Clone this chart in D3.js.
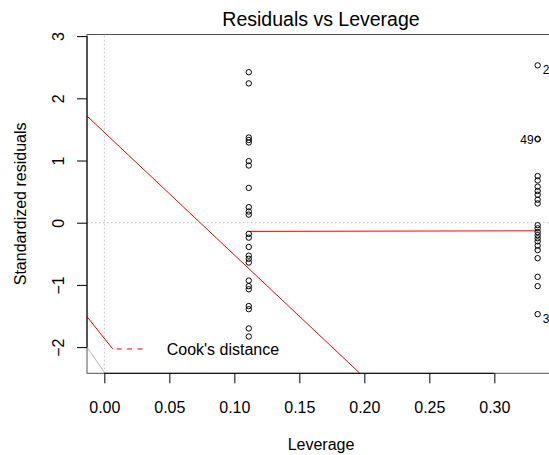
<!DOCTYPE html>
<html>
<head>
<meta charset="utf-8">
<script src="https://cdn.jsdelivr.net/npm/d3@7"></script>
<style>
  body { margin: 0; background: #fff; }
  text { font-family: "Liberation Sans", Arial, sans-serif; fill: #000; }
</style>
</head>
<body>
<div id="chart"></div>
<script>
// leverage groups (two distinct hat values)
const leverageLow = 1 / 9;
const leverageHigh = 1 / 3;

// standardized residuals
const residLow = [2.42, 2.24, 1.37, 1.33, 1.29, 0.99, 0.92, 0.56, 0.25, 0.18, 0.13,
  -0.18, -0.24, -0.39, -0.53, -0.58, -0.64, -0.93, -1.02, -1.07, -1.34, -1.39, -1.70, -1.83];
const residHigh = [2.53, 1.34, 1.35, 0.75, 0.68, 0.58, 0.51, 0.45, 0.37, 0.31,
  -0.04, -0.09, -0.15, -0.20, -0.25, -0.30, -0.37, -0.44, -0.57, -0.87, -1.02, -1.47];

// labelled observations
const idLabels = [
  { id: '2', lev: 1 / 3, res: 2.53, side: 'right' },
  { id: '49', lev: 1 / 3, res: 1.345, side: 'left' },
  { id: '3', lev: 1 / 3, res: -1.47, side: 'right' }
];

// red smoother and other reference lines
const smoother = [[1 / 9, -0.14], [1 / 3, -0.13]];
const cookLine = [[-0.01333, 1.715], [0.1965, -2.42]];
const cookLineLow = [[-0.01333, -1.51], [0.0065, -2.03]];
const greyLine = [[-0.01333, -2.0], [0.0005, -2.42]];

const xTicks = [0, 0.05, 0.1, 0.15, 0.2, 0.25, 0.3];
const yTicks = [-2, -1, 0, 1, 2, 3];

const width = 549, height = 455;
const margin = { top: 34.5, right: -6, bottom: 81.7, left: 87 };

const svg = d3.select('#chart')
  .append('svg')
  .attr('width', width)
  .attr('height', height);

const x = d3.scaleLinear()
  .domain([-0.01333, 0.34667])
  .range([margin.left, width - margin.right]);

const y = d3.scaleLinear()
  .domain([-2.421, 3.026])
  .range([height - margin.bottom, margin.top]);

svg.append('clipPath')
  .attr('id', 'plotArea')
  .append('rect')
  .attr('x', x.range()[0])
  .attr('y', y.range()[1])
  .attr('width', x.range()[1] - x.range()[0])
  .attr('height', y.range()[0] - y.range()[1]);

const plot = svg.append('g').attr('clip-path', 'url(#plotArea)');

// dotted zero lines
plot.append('line')
  .attr('x1', x(0)).attr('x2', x(0))
  .attr('y1', y.range()[0]).attr('y2', y.range()[1])
  .attr('stroke', '#bdbdbd').attr('stroke-dasharray', '1.5,2.5');
plot.append('line')
  .attr('x1', x.range()[0]).attr('x2', x.range()[1])
  .attr('y1', y(0)).attr('y2', y(0))
  .attr('stroke', '#bdbdbd').attr('stroke-dasharray', '1.5,2.5');

const line = d3.line().x(d => x(d[0])).y(d => y(d[1]));

plot.append('path').attr('d', line(greyLine))
  .attr('fill', 'none').attr('stroke', '#b5b5b5');
plot.append('path').attr('d', line(cookLine))
  .attr('fill', 'none').attr('stroke', '#ff0000');
plot.append('path').attr('d', line(cookLineLow))
  .attr('fill', 'none').attr('stroke', '#ff0000');
plot.append('path').attr('d', line(smoother))
  .attr('fill', 'none').attr('stroke', '#ff0000');

// points
const points = residLow.map(r => [leverageLow, r])
  .concat(residHigh.map(r => [leverageHigh, r]));

plot.selectAll('circle.pt')
  .data(points)
  .enter()
  .append('circle')
  .attr('class', 'pt')
  .attr('cx', d => x(d[0]))
  .attr('cy', d => y(d[1]))
  .attr('r', 2.7)
  .attr('fill', 'none')
  .attr('stroke', '#000')
  .attr('stroke-width', 1);

// point labels
svg.selectAll('text.id')
  .data(idLabels)
  .enter()
  .append('text')
  .attr('class', 'id')
  .attr('x', d => d.side === 'right' ? x(d.lev) + 5 : x(d.lev) - 4)
  .attr('y', d => d.side === 'right' ? y(d.res) + 9 : y(d.res) + 4.5)
  .attr('text-anchor', d => d.side === 'right' ? 'start' : 'end')
  .style('font-size', '12px')
  .text(d => d.id);

// box
svg.append('rect')
  .attr('x', x.range()[0])
  .attr('y', y.range()[1])
  .attr('width', x.range()[1] - x.range()[0])
  .attr('height', y.range()[0] - y.range()[1])
  .attr('fill', 'none')
  .attr('stroke', '#555');

// X axis
const xAxis = svg.append('g')
  .attr('transform', `translate(0, ${y.range()[0]})`)
  .call(d3.axisBottom(x).tickValues(xTicks).tickSize(10).tickPadding(4)
    .tickFormat(d3.format('.2f')));
xAxis.select('.domain').attr('d', `M${x(xTicks[0])},0H${x(xTicks[xTicks.length - 1])}`);
xAxis.selectAll('text')
  .style('font-size', '16px')
  .style('font-family', '"Liberation Sans", Arial, sans-serif')
  .attr('dy', null).attr('y', 40.2);

// Y axis
const yAxis = svg.append('g')
  .attr('transform', `translate(${x.range()[0]}, 0)`)
  .call(d3.axisLeft(y).tickValues(yTicks).tickSize(10).tickFormat(d3.format('d')));
yAxis.select('.domain').attr('d', `M0,${y(yTicks[0])}V${y(yTicks[yTicks.length - 1])}`);
yAxis.selectAll('.tick text')
  .style('font-size', '16px')
  .style('font-family', '"Liberation Sans", Arial, sans-serif')
  .attr('text-anchor', 'middle')
  .attr('dy', null)
  .attr('x', null)
  .attr('transform', 'translate(-23.5, 0) rotate(-90)');

// legend
const legendY = y(-2.03);
svg.append('line')
  .attr('x1', 116.5).attr('x2', 144)
  .attr('y1', legendY).attr('y2', legendY)
  .attr('stroke', '#ff0000')
  .attr('stroke-dasharray', '5,5.5');
svg.append('text')
  .attr('x', 166.7)
  .attr('y', legendY + 5.8)
  .style('font-size', '16px')
  .text("Cook's distance");

// title and axis labels
svg.append('text')
  .attr('x', 321)
  .attr('y', 26)
  .attr('text-anchor', 'middle')
  .style('font-size', '19.5px')
  .text('Residuals vs Leverage');

svg.append('text')
  .attr('x', 321)
  .attr('y', 450)
  .attr('text-anchor', 'middle')
  .style('font-size', '16px')
  .text('Leverage');

svg.append('text')
  .attr('transform', `translate(26, ${(y.range()[0] + y.range()[1]) / 2}) rotate(-90)`)
  .attr('text-anchor', 'middle')
  .style('font-size', '16px')
  .text('Standardized residuals');
</script>
</body>
</html>
